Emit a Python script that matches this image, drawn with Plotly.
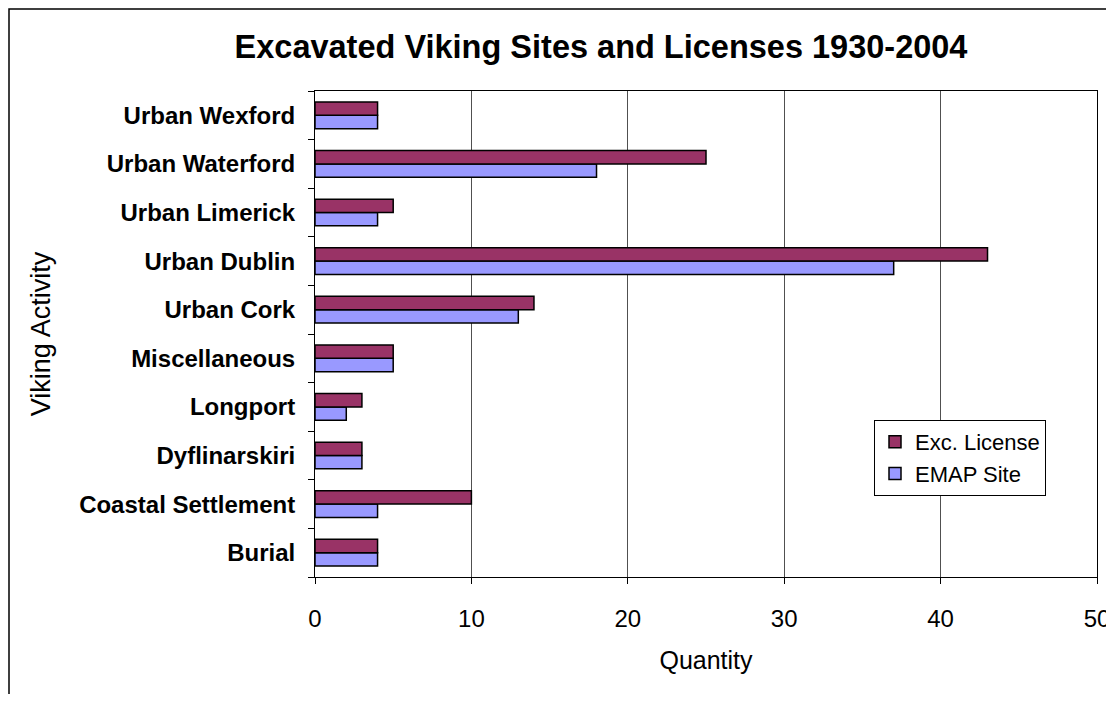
import plotly.graph_objects as go

categories = ["Burial", "Coastal Settlement", "Dyflinarskiri", "Longport", "Miscellaneous",
              "Urban Cork", "Urban Dublin", "Urban Limerick", "Urban Waterford", "Urban Wexford"]
exc_license = [4, 10, 3, 3, 5, 14, 43, 5, 25, 4]
emap_site = [4, 4, 3, 2, 5, 13, 37, 4, 18, 4]
x_ticks = [0, 10, 20, 30, 40, 50]

# page body has an 8px margin; keep the figure inside the window and shift coordinates
OFF = 8
W, H = 1114 - OFF, 702 - 2 * OFF
L, R, T, B = 315 - OFF, 1097 - OFF, 91 - OFF, 577 - OFF
pw, ph = R - L, B - T

font = "Liberation Sans, Arial, sans-serif"

fig = go.Figure()
fig.add_trace(go.Bar(y=categories, x=emap_site, orientation="h", name="EMAP Site",
                     legendgroup="b",
                     marker=dict(color="#9999FF", line=dict(color="black", width=1.5))))
fig.add_trace(go.Bar(y=categories, x=exc_license, orientation="h", name="Exc. License",
                     legendgroup="a",
                     marker=dict(color="#993366", line=dict(color="black", width=1.5))))

fig.update_layout(
    width=W, height=H, autosize=False,
    margin=dict(l=L, r=W - R, t=T, b=H - B, autoexpand=False),
    paper_bgcolor="white", plot_bgcolor="white",
    barmode="group", bargap=0.45, bargroupgap=0,
    font=dict(family=font, color="black"),
    title=dict(text="<b>Excavated Viking Sites and Licenses 1930-2004</b>",
               x=(601 - OFF) / W, xanchor="center", y=1 - (47 - OFF) / H, yanchor="middle",
               font=dict(size=32.5, family=font)),
    xaxis=dict(range=[0, 50], tickvals=x_ticks, showgrid=True, gridcolor="#505050", gridwidth=1,
               showline=True, linecolor="black", linewidth=1, mirror=True, automargin=False,
               ticks="outside", ticklen=6, tickcolor="black", ticklabeloverflow="allow",
               tickfont=dict(size=24), zeroline=False, ticklabelstandoff=14,
               title=dict(text="Quantity", font=dict(size=25), standoff=20)),
    yaxis=dict(type="category", categoryorder="array", categoryarray=categories,
               showline=True, linecolor="black", linewidth=1, mirror=True, automargin=False,
               ticks="outside", ticklen=6, tickcolor="black", tickson="boundaries",
               tickfont=dict(size=24, family=font), showgrid=False,
               ticklabelstandoff=14,
               title=dict(text="Viking Activity", font=dict(size=27), standoff=20)),
    legend=dict(x=(874 - OFF - L) / pw, xanchor="left", y=1 - (420 - OFF - T) / ph, yanchor="top",
                bordercolor="black", borderwidth=1, bgcolor="white",
                font=dict(size=22), traceorder="reversed", tracegroupgap=6, itemwidth=30),
    shapes=[dict(type="rect", xref="paper", yref="paper",
                 x0=(1 - L) / pw, x1=(W + 10 - L) / pw,
                 y0=1 - (H + 10 - T) / ph, y1=1 - (1 - T) / ph,
                 line=dict(color="black", width=1.5), fillcolor="rgba(0,0,0,0)", layer="below")],
)
fig.update_yaxes(tickprefix="<b>", ticksuffix="</b>")

fig.write_html("out.html")
